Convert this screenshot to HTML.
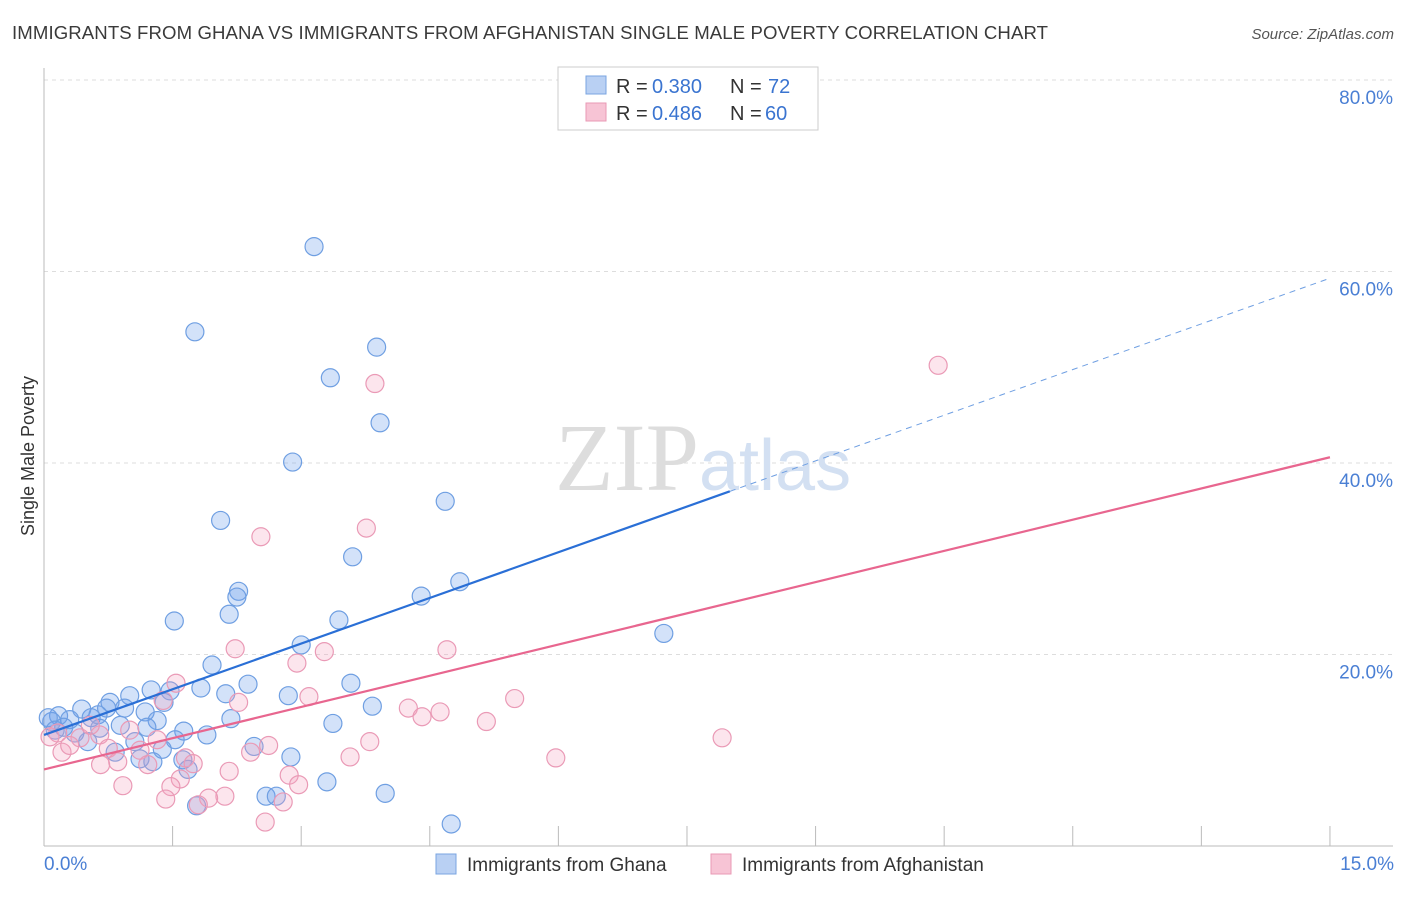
<!DOCTYPE html>
<html><head><meta charset="utf-8"><style>
body{margin:0;background:#fff;font-family:"Liberation Sans",sans-serif;}
</style></head><body>
<svg width="1406" height="892" xmlns="http://www.w3.org/2000/svg" font-family="Liberation Sans, sans-serif">
<text x="12" y="39" font-size="18.6" fill="#3a3a3a" textLength="1036">IMMIGRANTS FROM GHANA VS IMMIGRANTS FROM AFGHANISTAN SINGLE MALE POVERTY CORRELATION CHART</text>
<text x="1394" y="39" font-size="15" fill="#555" font-style="italic" text-anchor="end">Source: ZipAtlas.com</text>
<text x="34" y="456" font-size="18" fill="#333" text-anchor="middle" transform="rotate(-90 34 456)">Single Male Poverty</text>
<g id="grid"></g>
<text x="555" y="490" font-size="96" fill="#ddd" font-family="Liberation Serif, serif">ZIP<tspan fill="#d3e0f2" font-family="Liberation Sans, sans-serif" font-size="72">atlas</tspan></text>
<g id="pts"></g>
<g id="lines"></g>
<g>
<rect x="558" y="67" width="260" height="63" fill="#fff" stroke="#ccc"/>
<rect x="586" y="76" width="20" height="18" fill="#b9d0f3" stroke="#7aa4e0"/>
<rect x="586" y="103" width="20" height="18" fill="#f7c4d5" stroke="#e99ab5"/>
<text x="616" y="93" font-size="20" fill="#333">R = </text><text x="652" y="93" font-size="20" fill="#3a74d0">0.380</text>
<text x="730" y="93" font-size="20" fill="#333">N = </text><text x="768" y="93" font-size="20" fill="#3a74d0">72</text>
<text x="616" y="120" font-size="20" fill="#333">R = </text><text x="652" y="120" font-size="20" fill="#3a74d0">0.486</text>
<text x="730" y="120" font-size="20" fill="#333">N = </text><text x="765" y="120" font-size="20" fill="#3a74d0">60</text>
</g>
<g>
<rect x="436" y="854" width="20" height="20" fill="#b9d0f3" stroke="#7aa4e0"/>
<text x="467" y="871" font-size="19" fill="#333">Immigrants from Ghana</text>
<rect x="711" y="854" width="20" height="20" fill="#f7c4d5" stroke="#e99ab5"/>
<text x="742" y="871" font-size="19" fill="#333">Immigrants from Afghanistan</text>
</g>
<text x="44" y="870" font-size="19" fill="#4a7fd4">0.0%</text>
<text x="1394" y="870" font-size="19" fill="#4a7fd4" text-anchor="end">15.0%</text>
</svg>
<script>
const yTicks=[20,40,60,80];
const xTicks=[0,1.5,3,4.5,6,7.5,9,10.5,12,13.5,15];
const ghanaX=[3.15,1.76,3.88,3.34,3.92,2.90,4.68,2.06,3.60,4.85,2.27,2.25,4.40,2.16,1.52,3.44,7.23,3.00,1.96,2.38,3.58,1.83,1.25,1.47,1.00,2.12,2.85,0.77,1.40,0.44,0.73,0.94,3.83,0.63,1.18,0.17,0.55,0.30,2.18,1.32,3.37,0.89,1.20,0.09,0.23,0.65,1.63,1.90,1.53,0.36,1.06,0.51,2.45,1.38,0.83,2.88,1.12,1.62,1.27,1.68,3.30,2.59,2.71,3.98,1.78,4.75,0.05,0.13];
const ghanaY=[62.6,53.7,52.1,48.9,44.2,40.1,36.0,34.0,30.2,27.6,26.6,26.0,26.1,24.2,23.5,23.6,22.2,21.0,18.9,16.9,17.0,16.5,16.3,16.2,15.7,15.9,15.7,15.0,15.0,14.3,14.4,14.4,14.6,13.7,14.0,13.6,13.4,13.2,13.3,13.1,12.8,12.6,12.4,13.0,12.4,12.3,12.0,11.6,11.1,11.8,10.9,10.9,10.4,10.1,9.8,9.3,9.1,9.0,8.8,8.0,6.7,5.2,5.2,5.5,4.2,2.3,13.4,12.1];
const afgX=[10.43,3.86,3.76,2.53,2.23,4.70,3.27,2.95,1.54,3.09,5.49,2.27,1.39,4.25,4.62,4.41,5.16,1.00,0.65,0.16,0.42,1.32,3.80,7.91,2.62,0.75,1.12,0.21,2.41,1.65,3.57,5.97,0.86,1.21,1.74,0.66,2.16,2.86,1.59,0.92,2.97,1.48,2.11,1.92,1.42,2.79,1.80,2.58,0.07,0.30,0.54];
const afgY=[50.2,48.3,33.2,32.3,20.6,20.5,20.3,19.1,17.0,15.6,15.4,15.0,15.2,14.4,14.0,13.5,13.0,12.1,11.6,11.8,11.3,11.1,10.9,11.3,10.5,10.2,10.0,9.8,9.8,9.2,9.3,9.2,8.8,8.5,8.6,8.5,7.8,7.4,7.0,6.3,6.4,6.2,5.2,5.0,4.9,4.6,4.3,2.5,11.4,10.5,12.6];
const ghanaTrend=[11.6,59.3];
const afgTrend=[8.0,40.6];
const X=v=>44+v*85.73, Y=v=>846-v*9.575;
const NS='http://www.w3.org/2000/svg';
function mk(t,a,p){const e=document.createElementNS(NS,t);for(const k in a)e.setAttribute(k,a[k]);p.appendChild(e);return e;}
const grid=document.getElementById('grid');
yTicks.forEach(t=>{
  const l=mk('line',{x1:44,x2:1393,y1:Y(t),y2:Y(t),stroke:'#ddd','stroke-dasharray':'4 4'},grid);
  
  
  const tx=mk('text',{x:1393,y:Y(t)+24,'font-size':19,fill:'#4a7fd4','text-anchor':'end'},grid);
  tx.textContent=t.toFixed(1)+'%';
  
  
});
const ax=mk('line',{x1:44,x2:44,y1:68,y2:846,stroke:'#bbb'},grid);


const bx=mk('line',{x1:44,x2:1393,y1:846,y2:846,stroke:'#bbb'},grid);


xTicks.forEach(t=>{
  const l=mk('line',{x1:X(t),x2:X(t),y1:826,y2:846,stroke:'#bbb'},grid);
  
  
});
const pts=document.getElementById('pts');
ghanaX.forEach((x,i)=>{
  const c=mk('circle',{cx:X(x),cy:Y(ghanaY[i]),r:9,fill:'rgba(110,160,235,0.3)',stroke:'#6f9fe2','stroke-width':1.2},pts);
  
  
});
afgX.forEach((x,i)=>{
  const c=mk('circle',{cx:X(x),cy:Y(afgY[i]),r:9,fill:'rgba(245,160,190,0.28)',stroke:'#ea9ab6','stroke-width':1.2},pts);
  
  
});
const lines=document.getElementById('lines');
const gy=x=>ghanaTrend[0]+(ghanaTrend[1]-ghanaTrend[0])*x/15;
const l1=mk('line',{x1:X(0),y1:Y(gy(0)),x2:X(8),y2:Y(gy(8)),stroke:'#2a6fd6','stroke-width':2.2},lines);


const l2=mk('line',{x1:X(8),y1:Y(gy(8)),x2:X(15),y2:Y(gy(15)),stroke:'#6f9fe2','stroke-width':1,'stroke-dasharray':'6 5'},lines);


const l3=mk('line',{x1:X(0),y1:Y(afgTrend[0]),x2:X(15),y2:Y(afgTrend[1]),stroke:'#e8668f','stroke-width':2.2},lines);


</script>
</body></html>
